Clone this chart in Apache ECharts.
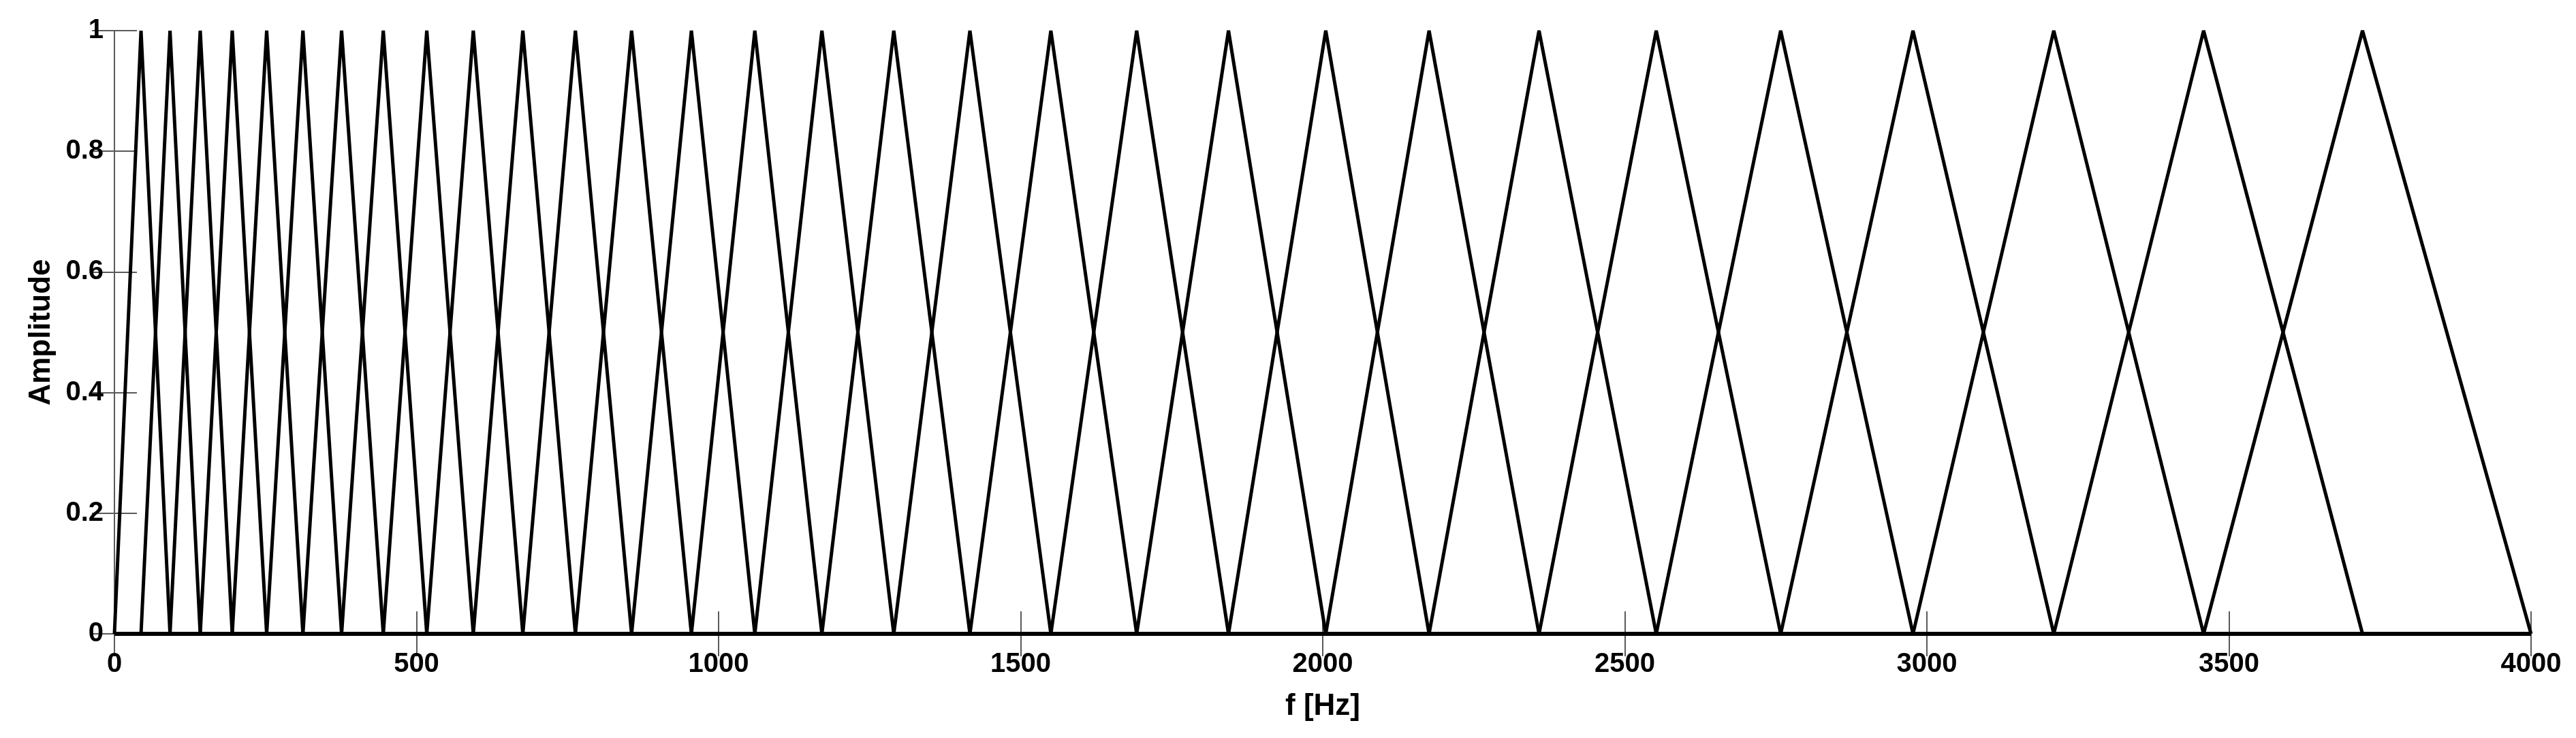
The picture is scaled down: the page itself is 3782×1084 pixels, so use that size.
<!DOCTYPE html>
<html>
<head>
<meta charset="utf-8">
<script src="https://cdn.jsdelivr.net/npm/echarts@6/dist/echarts.min.js"></script>
<style>
  html, body { margin: 0; padding: 0; background: #fff; }
  #chart { width: 3782px; height: 1084px; }
</style>
</head>
<body>
<div id="chart"></div>
<script>
// filter edge / centre frequencies (Hz)
var edgeFreqs = [0, 44, 92, 142, 195, 252, 312, 376, 445, 517, 594, 676, 763, 856, 955, 1060,
  1171, 1290, 1416, 1550, 1692, 1844, 2005, 2176, 2358, 2552, 2758, 2977, 3210, 3458, 3721, 4000];
var peakLevel = 1;
var xTicks = [0, 500, 1000, 1500, 2000, 2500, 3000, 3500, 4000];
var yTicks = [0, 0.2, 0.4, 0.6, 0.8, 1];

var fMin = xTicks[0], fMax = xTicks[xTicks.length - 1];

// one triangle per filter, zero over the rest of the band
var series = [];
for (var k = 1; k < edgeFreqs.length - 1; k++) {
  var pts = [];
  if (edgeFreqs[k - 1] > fMin) pts.push([fMin, 0]);
  pts.push([edgeFreqs[k - 1], 0]);
  pts.push([edgeFreqs[k], peakLevel]);
  pts.push([edgeFreqs[k + 1], 0]);
  if (edgeFreqs[k + 1] < fMax) pts.push([fMax, 0]);
  series.push({
    type: 'line',
    data: pts,
    showSymbol: false,
    clip: false,
    lineStyle: { color: '#000', width: 5 },
    silent: true
  });
}

var axisGray = '#5a5a5a';
var labelFont = { fontFamily: 'Liberation Sans', fontWeight: 'bold', fontSize: 40, color: '#000' };
var nameFont = { fontFamily: 'Liberation Sans', fontWeight: 'bold', fontSize: 44, color: '#000' };

var chart = echarts.init(document.getElementById('chart'));
chart.setOption({
  animation: false,
  backgroundColor: '#fff',
  grid: { left: 168, right: 66, top: 45, bottom: 153 },
  xAxis: [{
    type: 'value', min: fMin, max: fMax, interval: xTicks[1] - xTicks[0],
    name: 'f [Hz]', nameLocation: 'middle', nameGap: 85, nameTextStyle: nameFont,
    axisLine: { show: true, lineStyle: { color: axisGray, width: 2 } },
    axisTick: { show: true, inside: true, length: 33, lineStyle: { color: axisGray, width: 2 } },
    axisLabel: Object.assign({ margin: 25, formatter: function (v) { return String(v); } }, labelFont),
    splitLine: { show: false }
  }, {
    type: 'value', position: 'top', min: fMin, max: fMax, interval: xTicks[1] - xTicks[0],
    axisLine: { show: true, lineStyle: { color: axisGray, width: 2 } },
    axisTick: { show: true, inside: true, length: 33, lineStyle: { color: axisGray, width: 2 } },
    axisLabel: { show: false },
    splitLine: { show: false }
  }],
  yAxis: [{
    type: 'value', min: yTicks[0], max: yTicks[yTicks.length - 1], interval: yTicks[1] - yTicks[0],
    name: 'Amplitude', nameLocation: 'middle', nameGap: 85, nameTextStyle: nameFont,
    axisLine: { show: true, lineStyle: { color: axisGray, width: 2 } },
    axisTick: { show: true, inside: true, length: 33, lineStyle: { color: axisGray, width: 2 } },
    axisLabel: Object.assign({ margin: 16 }, labelFont),
    splitLine: { show: false }
  }, {
    type: 'value', position: 'right', min: yTicks[0], max: yTicks[yTicks.length - 1], interval: yTicks[1] - yTicks[0],
    axisLine: { show: true, lineStyle: { color: axisGray, width: 2 } },
    axisTick: { show: true, inside: true, length: 33, lineStyle: { color: axisGray, width: 2 } },
    axisLabel: { show: false },
    splitLine: { show: false }
  }],
  series: series
});
</script>
</body>
</html>
